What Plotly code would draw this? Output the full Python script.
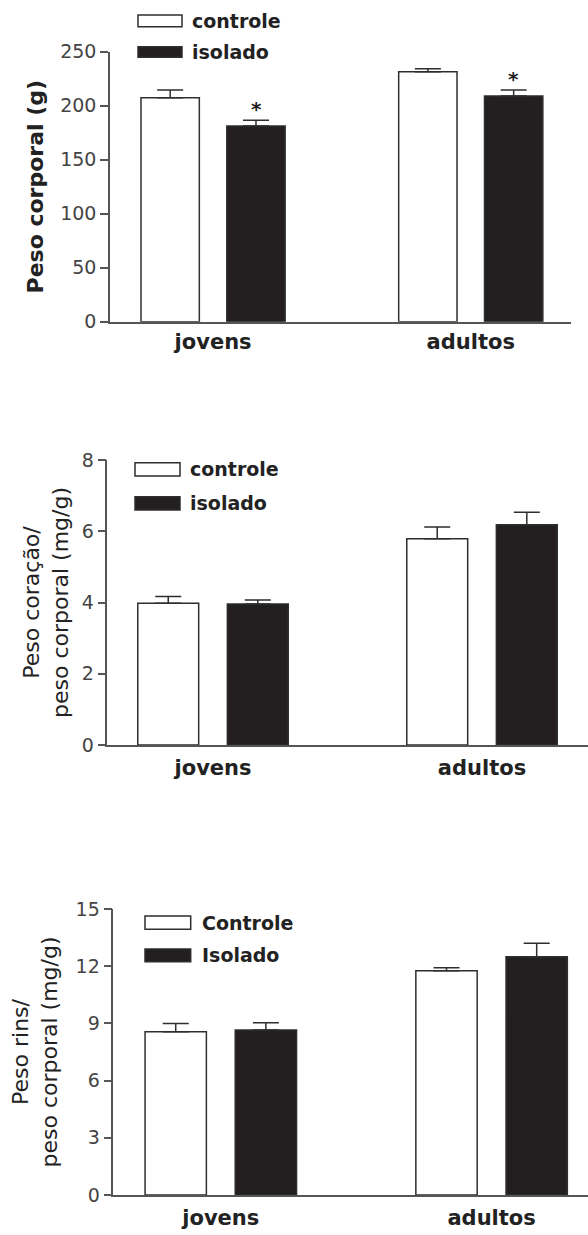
import plotly.graph_objects as go

# ---------------- data ----------------
categories = ["jovens", "adultos"]

# Panel 1: body weight (g)
p1_controle = [207.4, 231.5]
p1_controle_err = [7.1, 2.8]
p1_isolado = [181.2, 209.0]
p1_isolado_err = [5.3, 5.5]
p1_isolado_marks = ["*", "*"]

# Panel 2: heart weight / body weight (mg/g)
p2_controle = [3.98, 5.79]
p2_controle_err = [0.19, 0.33]
p2_isolado = [3.96, 6.18]
p2_isolado_err = [0.11, 0.35]

# Panel 3: kidney weight / body weight (mg/g)
p3_controle = [8.56, 11.76]
p3_controle_err = [0.44, 0.16]
p3_isolado = [8.65, 12.50]
p3_isolado_err = [0.39, 0.70]

legend_names = [["controle", "isolado"], ["controle", "isolado"], ["Controle", "Isolado"]]
y_titles = ["Peso corporal (g)",
            "Peso coração/<br>peso corporal (mg/g)",
            "Peso rins/<br>peso corporal (mg/g)"]
y_ticks = [[0, 50, 100, 150, 200, 250], [0, 2, 4, 6, 8], [0, 3, 6, 9, 12, 15]]

# ---------------- layout helpers ----------------
W, H = 588, 1235
FONT = "DejaVu Sans"
WHITE_FILL = "#ffffff"
BLACK_FILL = "#231f20"
EDGE = "#2e2e2e"
AXC = "#555555"

def fx(px):
    return px / W

def fy(py):
    return 1 - py / H

# pixel geometry of each panel (layout only)
panels = [
    dict(xd=(110, 571), yd=(51.7, 321.7), xr=[-0.400, 1.389], shift=43, standoff=10, xstand=0,
         leg=dict(x0=138, x1=182, y1=(15, 26.7), y2=(46.7, 57.3), tx=190), bold=True),
    dict(xd=(107.3, 588), yd=(460, 745), xr=[-0.393, 1.394], shift=45, standoff=7, xstand=3,
         leg=dict(x0=135, x1=180, y1=(462.7, 476), y2=(496.7, 510), tx=188), bold=False),
    dict(xd=(113.3, 588), yd=(909, 1195), xr=[-0.397, 1.356], shift=45, standoff=12, xstand=3,
         leg=dict(x0=145, x1=190.7, y1=(916, 929.3), y2=(949, 961.7), tx=200), bold=False),
]

series = [
    (p1_controle, p1_controle_err, p1_isolado, p1_isolado_err),
    (p2_controle, p2_controle_err, p2_isolado, p2_isolado_err),
    (p3_controle, p3_controle_err, p3_isolado, p3_isolado_err),
]

fig = go.Figure()
annotations = []
shapes = []

for i, (pc, pce, pi, pie) in enumerate(series):
    n = "" if i == 0 else str(i + 1)
    xa, ya = "x" + n, "y" + n
    names = legend_names[i]
    fig.add_trace(go.Bar(
        x=categories, y=pc, name=names[0], xaxis=xa, yaxis=ya, showlegend=False,
        marker=dict(color=WHITE_FILL, line=dict(color=EDGE, width=1.5)),
        error_y=dict(type="data", symmetric=False, array=pce, arrayminus=[0] * len(pce),
                     color=EDGE, thickness=1.5, width=13),
    ))
    fig.add_trace(go.Bar(
        x=categories, y=pi, name=names[1], xaxis=xa, yaxis=ya, showlegend=False,
        marker=dict(color=BLACK_FILL, line=dict(color=EDGE, width=1.5)),
        error_y=dict(type="data", symmetric=False, array=pie, arrayminus=[0] * len(pie),
                     color=EDGE, thickness=1.5, width=13),
    ))

    p = panels[i]
    fig.update_layout(**{
        "xaxis" + n: dict(
            domain=[fx(p["xd"][0]), fx(p["xd"][1])], anchor=ya, type="category",
            range=p["xr"], showline=True, linecolor=AXC, linewidth=1.5, ticks="",
            showgrid=False, zeroline=False, ticklabelstandoff=p["xstand"], automargin=False,
            tickfont=dict(family=FONT, size=21, color="#222222", weight="bold"),
        ),
        "yaxis" + n: dict(
            domain=[fy(p["yd"][1]), fy(p["yd"][0])], anchor=xa, automargin=False,
            range=[0, y_ticks[i][-1]], tickvals=y_ticks[i], ticks="outside", ticklen=8,
            tickwidth=1.5, tickcolor=AXC, showline=True, linecolor=AXC, linewidth=1.5,
            showgrid=False, zeroline=False,
            tickfont=dict(family=FONT, size=19, color="#444444"),
            title=dict(text=y_titles[i], standoff=p["standoff"],
                       font=dict(family=FONT, size=22, color="#222222",
                                 weight="bold" if p["bold"] else "normal")),
        ),
    })

    # legend swatches (manual, wide rectangles as in reference)
    lg = p["leg"]
    for (yy, fill, label) in [(lg["y1"], WHITE_FILL, names[0]), (lg["y2"], BLACK_FILL, names[1])]:
        shapes.append(dict(type="rect", xref="paper", yref="paper",
                           x0=fx(lg["x0"]), x1=fx(lg["x1"]), y0=fy(yy[1]), y1=fy(yy[0]),
                           fillcolor=fill, line=dict(color=EDGE, width=1.5)))
        annotations.append(dict(xref="paper", yref="paper", x=fx(lg["tx"]),
                                y=fy((yy[0] + yy[1]) / 2), xanchor="left", yanchor="middle",
                                text=label, showarrow=False,
                                font=dict(family=FONT, size=19, color="#222222", weight="bold")))

# significance asterisks above the isolated-group bars (panel 1)
for c, v, e, m in zip(categories, p1_isolado, p1_isolado_err, p1_isolado_marks):
    annotations.append(dict(xref="x", yref="y", x=c, y=v + e, text=m, showarrow=False,
                            xshift=panels[0]["shift"], yshift=-3, yanchor="bottom",
                            font=dict(family=FONT, size=20, color="#222222", weight="bold")))

fig.update_layout(
    template="none",
    width=W, height=H, margin=dict(l=0, r=0, t=0, b=0, autoexpand=False),
    paper_bgcolor="white", plot_bgcolor="white",
    barmode="group", bargap=0.334, bargroupgap=0.32,
    shapes=shapes, annotations=annotations, showlegend=False,
)

fig.write_html("out.html", config={"displayModeBar": False},
               post_script="document.body.style.margin='0';document.body.style.overflow='hidden';")
